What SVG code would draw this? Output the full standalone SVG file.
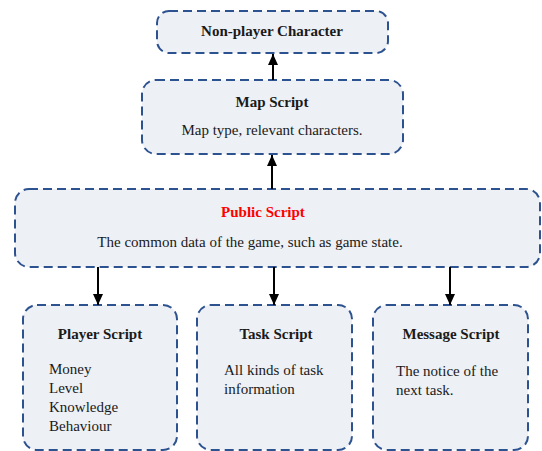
<svg xmlns="http://www.w3.org/2000/svg" width="542" height="451" viewBox="0 0 542 451">
<style>
.box{fill:#edf0f5;stroke:#2d5290;stroke-width:2;stroke-dasharray:9 5}
text{font-family:"Times New Roman","Liberation Serif",Times,serif;font-size:15px;fill:#1a1a1a}
.b{font-weight:bold;text-anchor:middle}
.c{text-anchor:middle}
.edge{stroke:#000;stroke-width:2;fill:none;marker-end:url(#ah)}
</style>
<defs>
<marker id="ah" markerUnits="userSpaceOnUse" markerWidth="12" markerHeight="12" viewBox="0 0 12 12" refX="11" refY="6" orient="auto">
<path d="M0,1 L11,6 L0,11 Z" fill="#000"/>
</marker>
</defs>
<rect width="542" height="451" fill="#fff"/>
<g id="npc">
<rect class="box" x="157" y="11" width="231" height="42" rx="12"/>
<text class="b" x="272" y="36">Non-player Character</text>
</g>
<g id="map">
<rect class="box" x="142" y="80" width="261" height="74" rx="14"/>
<text class="b" x="272" y="107">Map Script</text>
<text class="c" x="272" y="135">Map type, relevant characters.</text>
</g>
<g id="public">
<rect class="box" x="15" y="189" width="525" height="78" rx="14"/>
<text class="b" x="263" y="217" style="fill:#ff0000">Public Script</text>
<text class="c" x="250" y="247">The common data of the game, such as game state.</text>
</g>
<g id="player">
<rect class="box" x="23" y="305" width="154" height="145" rx="14"/>
<text class="b" x="100" y="339">Player Script</text>
<text x="49" y="374">Money</text>
<text x="49" y="393">Level</text>
<text x="49" y="412">Knowledge</text>
<text x="49" y="431">Behaviour</text>
</g>
<g id="task">
<rect class="box" x="197" y="305" width="155" height="145" rx="14"/>
<text class="b" x="276" y="339">Task Script</text>
<text x="224" y="375">All kinds of task</text>
<text x="224" y="394">information</text>
</g>
<g id="message">
<rect class="box" x="373" y="305" width="155" height="145" rx="14"/>
<text class="b" x="451" y="339">Message Script</text>
<text x="396" y="376">The notice of the</text>
<text x="396" y="395">next task.</text>
</g>
<g id="connectors">
<path class="edge" d="M273,80 L273,54"/>
<path class="edge" d="M272,189 L272,155"/>
<path class="edge" d="M98,267 L98,305"/>
<path class="edge" d="M274,267 L274,305"/>
<path class="edge" d="M450,267 L450,305"/>
</g>
</svg>
